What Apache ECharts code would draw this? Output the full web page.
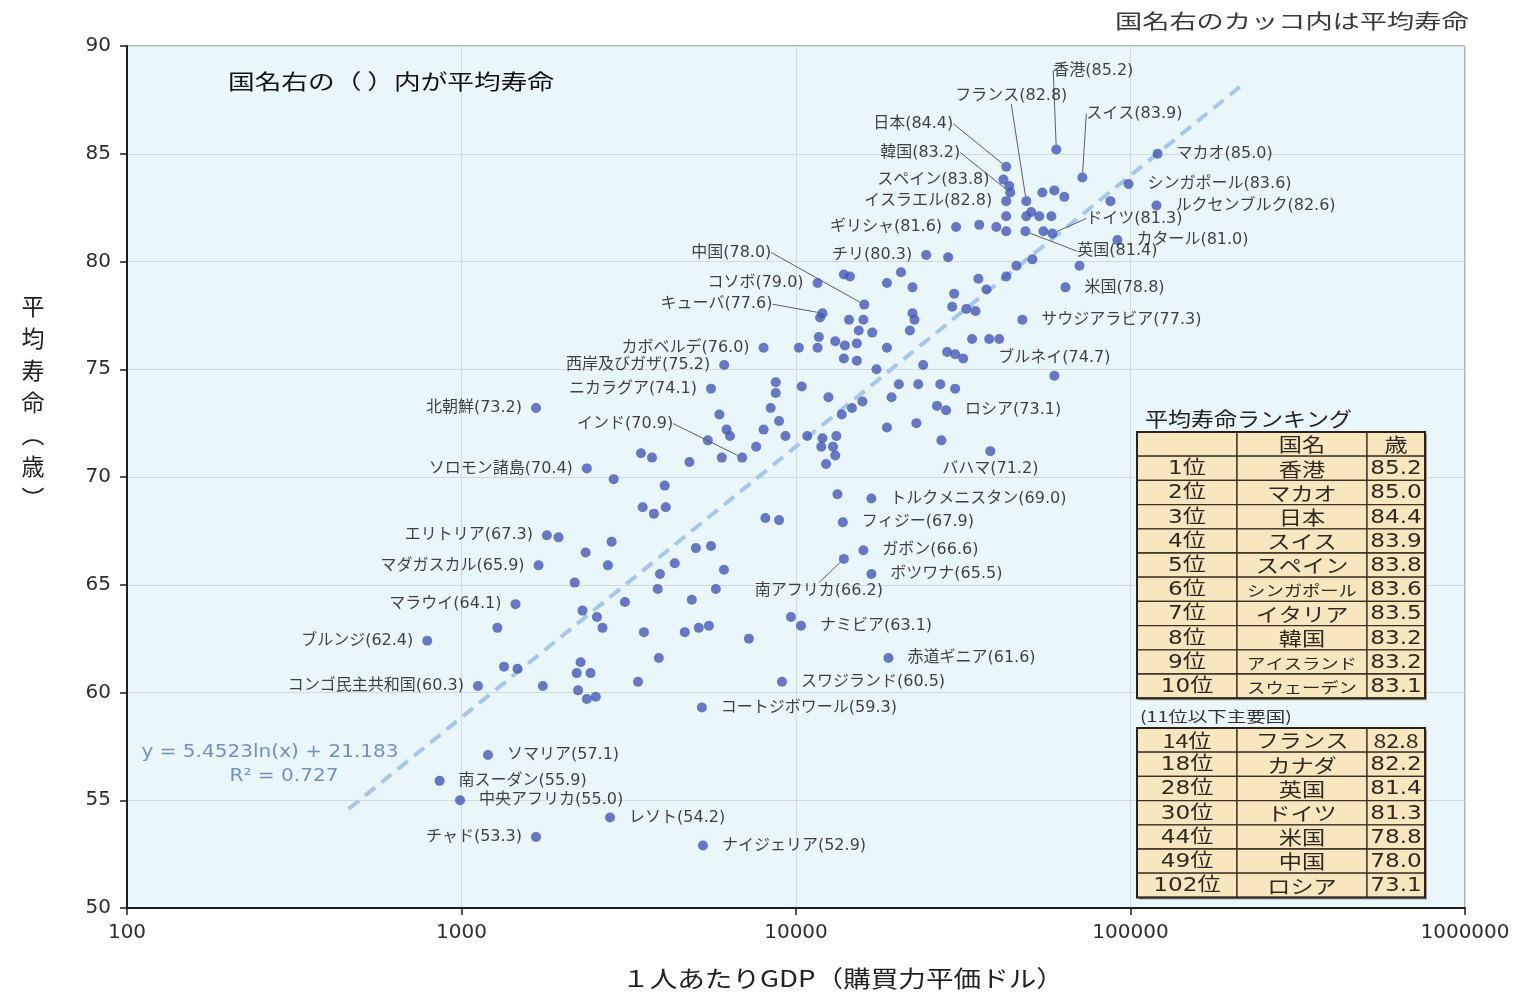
<!DOCTYPE html>
<html>
<head>
<meta charset="utf-8">
<script src="https://cdn.jsdelivr.net/npm/echarts@6/dist/echarts.min.js"></script>
<style>
  html, body { margin: 0; padding: 0; background: #ffffff; }
  #main { width: 1526px; height: 993px; }
</style>
</head>
<body>
<div id="main"></div>
<script>
// ---- data: named countries (GDP per capita PPP, life expectancy) ----
const countryNames = [
  '香港', 'マカオ', '日本', 'スイス', 'スペイン', 'シンガポール', '韓国', 'イスラエル',
  'フランス', 'ルクセンブルク', 'ギリシャ', 'ドイツ', '英国', 'カタール', 'チリ', '中国',
  '米国', 'コソボ', 'キューバ', 'サウジアラビア', 'カボベルデ', '西岸及びガザ', 'ブルネイ',
  'ニカラグア', '北朝鮮', 'ロシア', 'インド', 'ソロモン諸島', 'バハマ', 'トルクメニスタン',
  'フィジー', 'エリトリア', 'ガボン', '南アフリカ', 'マダガスカル', 'ボツワナ', 'マラウイ',
  'ナミビア', 'ブルンジ', '赤道ギニア', 'コンゴ民主共和国', 'スワジランド', 'コートジボワール',
  'ソマリア', '南スーダン', '中央アフリカ', 'レソト', 'チャド', 'ナイジェリア'
];
const countryGdp = [
  60000, 120500, 42500, 71800, 41700, 98600, 43700, 42500,
  48800, 119600, 30100, 58400, 48500, 91400, 24500, 16000,
  63900, 11600, 12000, 47500, 8000, 6100, 59200,
  5570, 1670, 28100, 6900, 2370, 38100, 16800,
  13800, 1800, 15900, 13900, 1700, 16800, 1450,
  10350, 790, 18900, 1120, 9080, 5230,
  1200, 860, 990, 2780, 1670, 5270
];
const countryLife = [
  85.2, 85.0, 84.4, 83.9, 83.8, 83.6, 83.2, 82.8,
  82.8, 82.6, 81.6, 81.3, 81.4, 81.0, 80.3, 78.0,
  78.8, 79.0, 77.6, 77.3, 76.0, 75.2, 74.7,
  74.1, 73.2, 73.1, 70.9, 70.4, 71.2, 69.0,
  67.9, 67.3, 66.6, 66.2, 65.9, 65.5, 64.1,
  63.1, 62.4, 61.6, 60.3, 60.5, 59.3,
  57.1, 55.9, 55.0, 54.2, 53.3, 52.9
];

// ---- data: other countries without a label ----
const otherGdp = [
  43400, 54500, 59200, 63400, 87100, 42500, 48800, 50500, 53400, 58000,
  35300, 39700, 42500, 54900, 50900, 45600, 42500, 70400, 35100, 37100,
  29700, 28500, 20600, 18700, 22300, 14500, 13900, 29300, 32300, 34400,
  22300, 22600, 11800, 14400, 15900, 15400, 16900, 21900, 33600, 37800,
  40500, 11700, 10200, 11600, 13100, 14000, 15200, 18700, 13900, 15200,
  17400, 24000, 28300, 29900, 31600, 8700, 8700, 10400, 12500, 20300,
  23200, 27000, 29900, 19300, 15800, 14700, 13700, 26400, 8400, 5900,
  8900, 22900, 18700, 27200, 8000, 6200, 6350, 9300, 5450, 7600,
  6000, 4800, 3440, 3710, 2850, 4050, 10800, 12000, 13200, 11900,
  12900, 13100, 12300, 13300, 3480, 3760, 4080, 8100, 8900, 1950,
  2810, 2350, 5020, 5570, 2740, 4340, 6090, 3920, 2180, 3860,
  5760, 4880, 3080, 2300, 2540, 2640, 3510, 4650, 5120, 5490,
  7230, 9660, 1280, 3890, 2270, 2210, 2430, 1340, 1470, 3370,
  1750, 2230, 2370, 2520
];
const otherLife = [
  83.5, 83.2, 83.3, 83.0, 82.8, 82.1, 82.1, 82.3, 82.1, 82.1,
  81.7, 81.6, 81.4, 81.4, 80.1, 79.8, 79.3, 79.8, 79.2, 78.7,
  78.5, 80.2, 79.5, 79.0, 78.8, 79.3, 79.4, 77.9, 77.8, 77.7,
  77.6, 77.3, 77.4, 77.3, 77.3, 76.8, 76.7, 76.8, 76.4, 76.4,
  76.4, 76.5, 76.0, 76.0, 76.3, 76.1, 76.2, 76.0, 75.5, 75.4,
  75.0, 75.2, 75.8, 75.7, 75.5, 74.4, 73.9, 74.2, 73.7, 74.3,
  74.3, 74.3, 74.1, 73.7, 73.5, 73.2, 72.9, 73.3, 73.2, 72.9,
  72.6, 72.5, 72.3, 71.7, 72.2, 72.2, 71.9, 71.9, 71.7, 71.4,
  70.9, 70.7, 71.1, 70.9, 69.9, 69.6, 71.9, 71.8, 71.9, 71.4,
  71.4, 71.0, 70.6, 69.2, 68.6, 68.3, 68.6, 68.1, 68.0, 67.2,
  67.0, 66.5, 66.7, 66.8, 65.9, 66.0, 65.7, 65.5, 65.1, 64.8,
  64.8, 64.3, 64.2, 63.8, 63.5, 63.0, 62.8, 62.8, 63.0, 63.1,
  62.5, 63.5, 63.0, 61.6, 61.4, 60.9, 60.9, 61.2, 61.1, 60.5,
  60.3, 60.1, 59.7, 59.8
];

// ---- logarithmic trend line end points ----
const trendGdp = [460, 216000];
const trendLife = [54.6, 88.2];
const trendFormula = 'y = 5.4523ln(x) + 21.183';
const trendR2 = 'R² = 0.727';

// ---- ranking tables ----
const rankHeader = ['', '国名', '歳'];
const topRanks = ['1位', '2位', '3位', '4位', '5位', '6位', '7位', '8位', '9位', '10位'];
const topNames = ['香港', 'マカオ', '日本', 'スイス', 'スペイン', 'シンガポール', 'イタリア', '韓国', 'アイスランド', 'スウェーデン'];
const topAges = ['85.2', '85.0', '84.4', '83.9', '83.8', '83.6', '83.5', '83.2', '83.2', '83.1'];
const majorRanks = ['14位', '18位', '28位', '30位', '44位', '49位', '102位'];
const majorNames = ['フランス', 'カナダ', '英国', 'ドイツ', '米国', '中国', 'ロシア'];
const majorAges = ['82.8', '82.2', '81.4', '81.3', '78.8', '78.0', '73.1'];

// ---- label placement: side of the dot, or [dx, dy] for labels with a leader line ----
const labelPlacement = {
  '香港': [37, -79], 'フランス': [-15, -105], 'スイス': [52, -64], '日本': [-93, -43],
  '韓国': [-90, -40], 'ドイツ': [82, -15], '英国': [92, 20], '中国': [-133, -52],
  'キューバ': [-106, -9], 'インド': [-117, -34], '南アフリカ': [-25, 32],
  'ブルネイ': 'top', 'バハマ': 'bottom'
};
const leftSide = ['スペイン', 'イスラエル', 'ギリシャ', 'チリ', 'コソボ', 'カボベルデ', '西岸及びガザ',
  'ニカラグア', '北朝鮮', 'ソロモン諸島', 'エリトリア', 'マダガスカル', 'マラウイ', 'ブルンジ',
  'コンゴ民主共和国', 'チャド'];

const JP = '"Noto Sans CJK JP", "Noto Sans", sans-serif';
const LBL = '"DejaVu Sans", "Noto Sans CJK JP", sans-serif';
const DOT = '#4356b8';

const chart = echarts.init(document.getElementById('main'));

const namedData = countryNames.map(function (n, i) {
  const p = labelPlacement[n];
  const item = { name: n, value: [countryGdp[i], countryLife[i]] };
  if (Array.isArray(p)) {
    item.label = { position: 'inside' };
    item.labelLine = { show: true };
  } else if (p) {
    item.label = { position: p, distance: 5 };
  } else if (leftSide.indexOf(n) >= 0) {
    item.label = { position: 'left', distance: 9 };
  } else {
    item.label = { position: 'right', distance: 14 };
  }
  return item;
});
const otherData = otherGdp.map(function (g, i) { return [g, otherLife[i]]; });

// table graphics
function tableCells(x0, y0, rowH, colW, rows) {
  const els = [];
  const totalW = colW.reduce(function (a, b) { return a + b; }, 0);
  els.push({ type: 'rect', shape: { x: x0 + 2, y: y0 + 2, width: totalW, height: rowH * rows.length },
    style: { fill: '#9a9a9a' }, z: 100 });
  rows.forEach(function (row, r) {
    let x = x0;
    row.forEach(function (txt, c) {
      const y = y0 + r * rowH;
      els.push({ type: 'rect', shape: { x: x, y: y, width: colW[c], height: rowH },
        style: { fill: '#f8e6bf', stroke: '#3a3124', lineWidth: 1.3 }, z: 101 });
      if (txt) {
        const fs = (c === 1 && txt.length >= 6) ? 15 : 19;
        els.push({ type: 'text', x: x + colW[c] / 2, y: y + rowH / 2 + 1, scaleX: 1.22, z: 102,
          style: { text: txt, fontSize: fs, fontFamily: c === 1 || r === 0 ? JP : LBL, fill: '#2e2a22',
            align: 'center', verticalAlign: 'middle', textAlign: 'center', textVerticalAlign: 'middle' } });
      }
      x += colW[c];
    });
  });
  els.push({ type: 'rect', shape: { x: x0, y: y0, width: totalW, height: rowH * rows.length },
    style: { fill: 'none', stroke: '#2a231a', lineWidth: 2 }, z: 103 });
  return els;
}
const colW = [100, 130, 58];
const topRows = [rankHeader].concat(topRanks.map(function (r, i) { return [r, topNames[i], topAges[i]]; }));
const majorRows = majorRanks.map(function (r, i) { return [r, majorNames[i], majorAges[i]]; });

function txt(x, y, text, size, color, opts) {
  return Object.assign({ type: 'text', x: x, y: y, z: 110,
    style: Object.assign({ text: text, fontSize: size, fontFamily: JP, fill: color,
      align: 'left', verticalAlign: 'middle', textAlign: 'left', textVerticalAlign: 'middle' }, (opts && opts.style) || {}) },
    (opts && opts.el) || {});
}

const graphics = []
  .concat([
    txt(1115, 21, '国名右のカッコ内は平均寿命', 20, '#3a3a3a', { el: { scaleX: 1.36 } }),
    txt(228, 81, '国名右の（ ）内が平均寿命', 21, '#111111', { el: { scaleX: 1.27 } }),
    txt(33, 290, '平\n均\n寿\n命\n︵\n歳\n︶', 23, '#222222',
      { style: { align: 'center', textAlign: 'center', verticalAlign: 'top', textVerticalAlign: 'top', lineHeight: 32 } }),
    txt(843, 978, '１人あたりGDP（購買力平価ドル）', 23, '#222222',
      { el: { scaleX: 1.2 }, style: { align: 'center', textAlign: 'center' } }),
    txt(270, 753, trendFormula, 17, '#7391bd',
      { el: { scaleX: 1.18 }, style: { fontFamily: LBL, align: 'center', textAlign: 'center' } }),
    txt(284, 777, trendR2, 17, '#7391bd',
      { el: { scaleX: 1.18 }, style: { fontFamily: LBL, align: 'center', textAlign: 'center' } }),
    txt(1145, 419, '平均寿命ランキング', 20, '#222222', { el: { scaleX: 1.15 } }),
    txt(1140, 716, '(11位以下主要国)', 15, '#333333', { el: { scaleX: 1.3 } })
  ])
  .concat(tableCells(1137, 432, 24.2, colW, topRows))
  .concat(tableCells(1137, 728, 24.2, colW, majorRows));

const option = {
  animation: false,
  backgroundColor: '#ffffff',
  grid: {
    left: 127, right: 61, top: 46, bottom: 85,
    show: true, backgroundColor: '#e9f7fa', borderColor: '#6e6e6e', borderWidth: 1
  },
  xAxis: {
    type: 'log', logBase: 10, min: 100, max: 1000000,
    axisLine: { show: true, onZero: false, lineStyle: { color: '#1e1e1e', width: 2 } },
    axisTick: { show: true, length: 7, lineStyle: { color: '#1e1e1e', width: 1.5 } },
    axisLabel: { fontSize: 20, fontFamily: LBL, color: '#2e2e2e', margin: 15,
      formatter: function (v) { return String(Math.round(v)); } },
    splitLine: { show: true, lineStyle: { color: '#d2dadc', width: 1 } },
    minorTick: { show: false }
  },
  yAxis: {
    type: 'value', min: 50, max: 90, interval: 5,
    axisLine: { show: true, lineStyle: { color: '#1e1e1e', width: 2 } },
    axisTick: { show: true, length: 7, lineStyle: { color: '#1e1e1e', width: 1.5 } },
    axisLabel: { fontSize: 20, fontFamily: LBL, color: '#2e2e2e', margin: 16 },
    splitLine: { show: true, lineStyle: { color: '#d2dadc', width: 1 } }
  },
  series: [
    {
      type: 'line',
      data: trendGdp.map(function (g, i) { return [g, trendLife[i]]; }),
      symbol: 'none',
      silent: true,
      lineStyle: { color: '#a6c6ea', width: 4, type: [13, 8] },
      z: 1
    },
    {
      type: 'scatter',
      data: otherData,
      symbol: 'circle',
      symbolSize: 10,
      itemStyle: { color: DOT },
      z: 3
    },
    {
      type: 'scatter',
      data: namedData,
      symbol: 'circle',
      symbolSize: 10,
      itemStyle: { color: DOT },
      label: {
        show: true,
        fontSize: 16,
        fontFamily: LBL,
        color: '#111111',
        formatter: function (p) { return p.name + '(' + p.value[1].toFixed(1) + ')'; }
      },
      labelLine: { show: false, lineStyle: { color: '#5e5e5e', width: 1 } },
      labelLayout: function (params) {
        const p = labelPlacement[countryNames[params.dataIndex]];
        if (Array.isArray(p)) return { dx: p[0], dy: p[1] };
        return {};
      },
      z: 4
    }
  ],
  graphic: graphics
};

chart.setOption(option);
</script>
</body>
</html>
